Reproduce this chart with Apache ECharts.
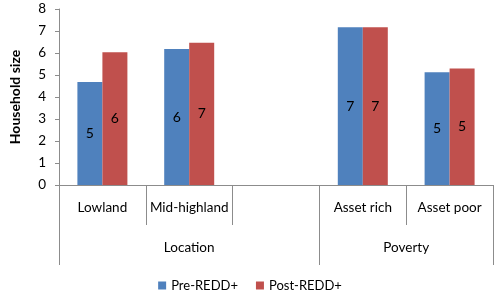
<!DOCTYPE html>
<html><head><meta charset="utf-8">
<script src="https://cdn.jsdelivr.net/npm/echarts@6/dist/echarts.min.js"></script>
<style>html,body{margin:0;padding:0;background:#fff}#c{width:500px;height:300px}</style>
</head><body><div id="c"></div>
<script>
const categories = ['Lowland', 'Mid-highland', '', 'Asset rich', 'Asset poor'];
const groups = ['Location', 'Poverty'];
const groupBounds = [0, 3, 5];
const groupCenters = [1.5, 4];
const preValues = [4.68, 6.18, null, 7.17, 5.12];
const postValues = [6.03, 6.47, null, 7.17, 5.3];
const preLabels = ['5', '6', '', '7', '5'];
const postLabels = ['6', '7', '', '7', '5'];
const yTicks = [0, 1, 2, 3, 4, 5, 6, 7, 8];

const FONT = 'Lato';
const AX = '#8c8c8c';
const chart = echarts.init(document.getElementById('c'), null, {renderer: 'canvas'});
function mk(vals, labels){ return vals.map((v,i)=>({value:v, label:{formatter: labels[i]}})); }
chart.setOption({
  animation: false,
  textStyle: {fontFamily: FONT},
  grid: {left: 52, right: 7, top: 9, bottom: 115, containLabel: false},
  legend: {
    bottom: 3, left: 'center', icon: 'rect', itemWidth: 8, itemHeight: 8, itemGap: 18,
    textStyle: {fontFamily: FONT, fontSize: 13, color: '#000'},
    data: ['Pre-REDD+', 'Post-REDD+']
  },
  xAxis: [{
    type: 'category', data: categories, position: 'bottom',
    axisLine: {lineStyle: {color: AX}},
    axisTick: {show: true, interval: 0, length: 40, lineStyle: {color: AX}},
    axisLabel: {interval: 0, margin: 16, fontSize: 13.5, color: '#000', fontFamily: FONT}
  }, {
    type: 'value', min: 0, max: 5, position: 'bottom', offset: 40,
    axisLine: {show: false},
    splitLine: {show: false},
    axisTick: {show: true, customValues: groupBounds, length: 40, lineStyle: {color: AX}},
    axisLabel: {customValues: groupCenters, margin: 16, fontSize: 13.5, color: '#000', fontFamily: FONT,
      formatter: v => groups[groupCenters.indexOf(v)]}
  }],
  yAxis: {
    type: 'value', min: 0, max: 8, interval: 1,
    name: 'Household size', nameLocation: 'middle', nameGap: 37,
    nameTextStyle: {fontFamily: FONT, fontWeight: 'bold', fontSize: 14, color: '#000'},
    axisLine: {show: true, lineStyle: {color: AX}},
    axisTick: {show: true, length: 4, lineStyle: {color: AX}},
    splitLine: {show: false},
    axisLabel: {fontSize: 13.5, color: '#000', margin: 13, fontFamily: FONT,
      formatter: v => yTicks.includes(v) ? String(v) : ''}
  },
  series: [{
    name: 'Pre-REDD+', type: 'bar', xAxisIndex: 0, data: mk(preValues, preLabels),
    barWidth: 25, barGap: '0%',
    itemStyle: {color: '#4F81BD'},
    label: {show: true, position: 'inside', color: '#000', fontSize: 14, fontFamily: FONT}
  }, {
    name: 'Post-REDD+', type: 'bar', xAxisIndex: 0, data: mk(postValues, postLabels),
    barWidth: 25, barGap: '0%',
    itemStyle: {color: '#C0504D'},
    label: {show: true, position: 'inside', color: '#000', fontSize: 14, fontFamily: FONT}
  }]
});
</script></body></html>
